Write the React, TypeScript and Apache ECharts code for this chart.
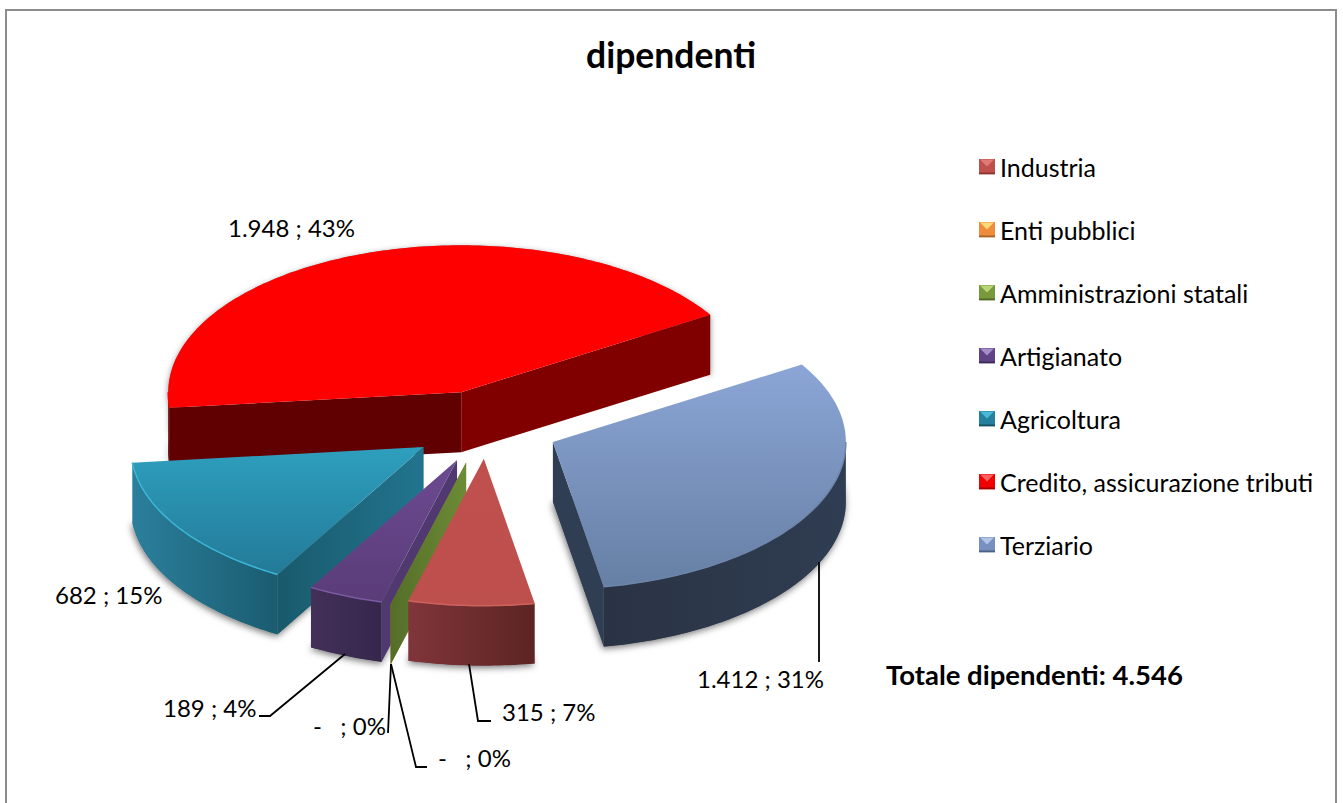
import React, { useEffect, useRef } from "react";
import * as echarts from "echarts";

const chartTitle = "dipendenti";
const totalCaption = "Totale dipendenti";
const categories = ["Industria", "Enti pubblici", "Amministrazioni statali", "Artigianato", "Agricoltura", "Credito, assicurazione tributi", "Terziario"];
const values = [315, 0, 0, 189, 682, 1948, 1412];

// Styling and layout, apart from the data
const FONT = "Lato";
const CX = 485, CY = 427, RX = 293, RY = 147, DEPTH = 60, EXPLODE = 0.25, START = 170;
const drawOrder = [7, 5, 6, 4, 3, 1, 2];
const apexNudge = [[2, -5], [0, 0], [0, 0], [0, -1], [0, 0], [0, 0], [1, 0]];
const palette = [
  { top: ["#bf504d", "#bd4f4c"], wall: ["#80353a", "#5c2422"], radial: ["#6b2c2a", "#6b2c2a"], edge: "#d0625e", icon: ["#e07a76", "#c0504d", "#8a3432"] },
  { top: ["#f79646", "#f79646"], wall: ["#b86a2a", "#b86a2a"], radial: ["#b86a2a", "#b86a2a"], edge: "#f79646", icon: ["#ffd878", "#ee8c3c", "#a86428"] },
  { top: ["#76923c", "#76923c"], wall: ["#6c8c36", "#546e28"], radial: ["#628030", "#628030"], edge: "#76923c", icon: ["#b8d878", "#789a3c", "#4c6a24"] },
  { top: ["#6c4a92", "#5a3c78"], wall: ["#433058", "#36264c"], radial: ["#503870", "#503870"], edge: "#7a5aa2", icon: ["#a48cc8", "#5e4484", "#3c2a58"] },
  { top: ["#2e9fbe", "#237a98"], wall: ["#2b7f9c", "#1a5c70"], radial: ["#195a6c", "#22748e"], edge: "#3cb6d6", icon: ["#48b8d8", "#24809c", "#165064"] },
  { top: ["#ff0000", "#ff0000"], wall: ["#600000", "#600000"], radial: ["#600000", "#600000"], edge: "#ff0000", icon: ["#ff6060", "#f00000", "#a00000"] },
  { top: ["#8ba6d6", "#667fa4"], wall: ["#2f3d52", "#2a3344"], radial: ["#303e54", "#303e54"], edge: "#6f86ab", icon: ["#b0c4e8", "#7790c0", "#4c6080"] },
];
const radialOverride: Record<string, string> = { "5:start": "#600000", "5:end": "#800000" };
const labelLayout = [
  { x: 502, y: 711, line: [[469, 664], [478, 721], [491, 721]] },
  { x: 438, y: 757, line: [[391, 664], [416, 767], [427, 767]] },
  { x: 313, y: 725, line: [[391, 664], [388, 733]] },
  { x: 163, y: 707, line: [[345, 654], [270, 716], [259, 716]] },
  { x: 55, y: 594, line: [] },
  { x: 228, y: 227, line: [] },
  { x: 697, y: 678, line: [[819, 562], [819, 662]] },
];
const LABEL_SIZE = 24;

const total = values.reduce((a, b) => a + b, 0);
const rad = (d: number) => (d * Math.PI) / 180;
const fmtNum = (v: number) => String(v).replace(/\B(?=(\d{3})+$)/g, ".");
const fmtLabel = (v: number) => `${v === 0 ? "-  " : fmtNum(v)} ; ${Math.round((v / total) * 100)}%`;

const bevelIcon = (c: string[]) =>
  "image://data:image/svg+xml," +
  encodeURIComponent(
    `<svg xmlns="http://www.w3.org/2000/svg" width="16" height="16"><rect width="16" height="16" fill="${c[1]}"/><polygon points="1,1 15,1 8,8" fill="${c[0]}"/><rect y="14" width="16" height="2" fill="${c[2]}"/></svg>`
  );

function renderSlice(index: number) {
  return (_params: any, api: any) => {
    const v = api.value(0);
    const before = values.slice(0, index).reduce((a, b) => a + b, 0);
    const a0 = START + (before / total) * 360;
    const a1 = a0 + (v / total) * 360;
    const mid = (a0 + a1) / 2;
    const apex: [number, number] = [
      CX + EXPLODE * RX * Math.sin(rad(mid)) + apexNudge[index][0],
      CY - EXPLODE * RY * Math.cos(rad(mid)) + apexNudge[index][1],
    ];
    const outer = (a: number): [number, number] => [apex[0] + RX * Math.sin(rad(a)), apex[1] - RY * Math.cos(rad(a))];
    const down = (p: number[]): [number, number] => [p[0], p[1] + DEPTH];
    const arc = (from: number, to: number) => {
      const pts: [number, number][] = [];
      const n = Math.max(1, Math.ceil(to - from));
      for (let k = 0; k <= n; k++) pts.push(outer(from + ((to - from) * k) / n));
      return pts;
    };
    const p = palette[index];
    const children: any[] = [];
    const topFace = [apex, ...arc(a0, a1)];
    const bottomFace = topFace.map(down);

    if (v > 0 && index !== 5) {
      children.push({
        type: "polygon",
        shape: { points: bottomFace },
        style: { fill: "#888", shadowBlur: 7, shadowColor: "rgba(0,0,0,0.55)", shadowOffsetX: -1, shadowOffsetY: 2 },
      });
    }
    if (index === 5) {
      children.push({
        type: "polygon",
        shape: { points: [...arc(a0, a1), ...arc(a0, a1).reverse().map(down)] },
        style: { fill: "#888", shadowBlur: 6, shadowColor: "rgba(0,0,0,0.45)", shadowOffsetY: 2 },
      });
    }

    const m = v > 0 ? [(apex[0] + outer(mid)[0]) / 2, (apex[1] + outer(mid)[1]) / 2] : apex;
    const wallFor = (a: number, key: string) => {
      const e = outer(a);
      const lineY = apex[1] + ((m[0] - apex[0]) * (e[1] - apex[1])) / (e[0] - apex[0]);
      if (v > 0 && m[1] > lineY) return;
      const colors = v === 0 ? [p.wall[1], p.wall[0]] : p.radial;
      const fill = radialOverride[`${index}:${key}`] ||
        new echarts.graphic.LinearGradient(0, 0, 1, 0, [{ offset: 0, color: colors[0] }, { offset: 1, color: colors[1] }]);
      children.push({ type: "polygon", shape: { points: [apex, e, down(e), down(apex)] }, style: { fill } });
    };
    wallFor(a0, "start");
    if (v > 0) wallFor(a1, "end");

    if (v > 0) {
      const ranges: [number, number][] = [[90, 270], [450, 630]];
      ranges.forEach(([lo, hi]) => {
        const from = Math.max(a0, lo), to = Math.min(a1, hi);
        if (to <= from) return;
        const seg = arc(from, to);
        children.push({
          type: "polygon",
          shape: { points: [...seg, ...seg.slice().reverse().map(down)] },
          style: {
            fill: new echarts.graphic.LinearGradient(index === 6 ? 1 : 0, 0, index === 6 ? 0 : 1, 0, [
              { offset: 0, color: p.wall[0] },
              { offset: 1, color: p.wall[1] },
            ]),
          },
        });
        children.push({
          type: "polyline",
          shape: { points: seg },
          style: { fill: "none", stroke: p.edge, lineWidth: 1.5 },
          z2: 2,
        });
      });
      children.push({
        type: "polygon",
        shape: { points: topFace },
        style: {
          fill: new echarts.graphic.LinearGradient(0, 0, 0, 1, [
            { offset: 0, color: p.top[0] },
            { offset: 1, color: p.top[1] },
          ]),
        },
        z2: 1,
      });
    }

    const lay = labelLayout[index];
    if (lay.line.length) {
      children.push({
        type: "polyline",
        shape: { points: lay.line },
        style: { fill: "none", stroke: "#000", lineWidth: 1.8 },
      });
    }
    children.push({
      type: "text",
      x: lay.x,
      y: lay.y,
      style: { text: fmtLabel(v), fill: "#000", font: `${LABEL_SIZE}px ${FONT}`, align: "left", verticalAlign: "middle" },
    });
    return { type: "group", children };
  };
}

export default function App() {
  const ref = useRef<HTMLDivElement>(null);
  useEffect(() => {
    const chart = echarts.init(ref.current!, undefined, { renderer: "svg" });
    chart.setOption({
      animation: false,
      backgroundColor: "#fff",
      title: {
        text: chartTitle,
        left: 666,
        top: 31,
        textAlign: "center",
        textStyle: { fontFamily: FONT, fontWeight: "bold", fontSize: 35.5, color: "#000" },
      },
      legend: {
        orient: "vertical",
        left: 979,
        top: 154,
        padding: 0,
        itemWidth: 16,
        itemHeight: 16,
        itemGap: 38,
        selectedMode: false,
        textStyle: { fontFamily: FONT, fontSize: 25, color: "#000" },
        data: categories.map((name, i) => ({ name, icon: bevelIcon(palette[i].icon) })),
      },
      graphic: [
        { type: "rect", silent: true, z: -1, shape: { x: 6, y: 10, width: 1330, height: 800 }, style: { fill: "#fff", stroke: "#8c8c8c", lineWidth: 2 } },
        { type: "text", x: 886, y: 674, style: { text: `${totalCaption}: ${fmtNum(total)}`, fill: "#000", font: `bold 27.5px ${FONT}`, align: "left", verticalAlign: "middle" } },
      ],
      series: categories.map((name, i) => ({
        type: "custom",
        name,
        coordinateSystem: "none",
        z: drawOrder[i] + 2,
        silent: true,
        data: [[values[i]]],
        renderItem: renderSlice(i),
      })),
    });
    return () => chart.dispose();
  }, []);
  return <div ref={ref} style={{ position: "fixed", left: 0, top: 0, width: 1343, height: 803, background: "#fff" }} />;
}
